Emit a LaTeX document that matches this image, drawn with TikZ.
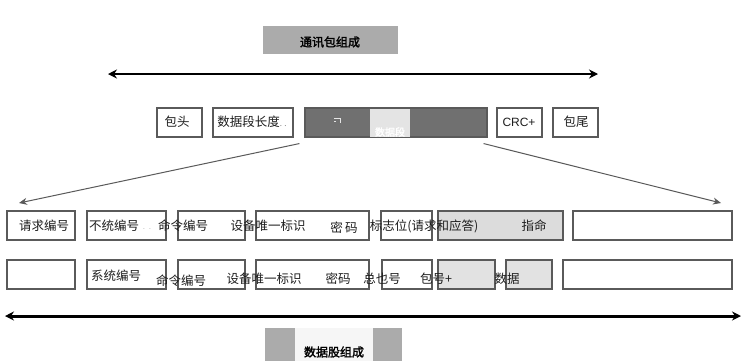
\documentclass[tikz,border=0pt]{standalone}
\usepackage{fontspec}
\newfontfamily\cjk{Noto Sans CJK SC}
\newfontfamily\cjkb[FakeBold=2]{Noto Sans CJK SC}
\setsansfont{Liberation Sans}
\usetikzlibrary{arrows.meta}
\definecolor{boxc}{HTML}{5A5A5A}
\definecolor{darkf}{HTML}{707070}
\definecolor{lightp}{HTML}{E4E4E4}
\definecolor{labelg}{HTML}{ABABAB}
\definecolor{grayf}{HTML}{DCDCDC}
\definecolor{grayf2}{HTML}{E2E2E2}
\definecolor{txt}{HTML}{1E1E1E}
\begin{document}
\begin{tikzpicture}[x=1pt,y=-1pt,
  box/.style={draw=boxc, line width=1.1pt, inner sep=0pt, minimum height=29pt},
  lbl/.style={inner sep=0pt, font=\cjk\fontsize{12.5}{13}\selectfont, text=txt},
  title/.style={inner sep=0pt, font=\cjkb\fontsize{12}{13}\selectfont, text=black},
  bigarrow/.style={line width=2.6pt, {Stealth[length=9pt,width=9pt]}-{Stealth[length=9pt,width=9pt]}},
  diag/.style={line width=1pt, draw=boxc, -{Stealth[length=8pt,width=7pt]}}
]
\useasboundingbox (0,0) rectangle (743,360);
\fill[white] (0,0) rectangle (743,360);

% top label
\node[fill=labelg, minimum width=135pt, minimum height=28pt, inner sep=0pt] (toplbl) at (330.5,39.5) {};
\node[title] (toptxt) at (330,42) {通讯包组成};

% top arrow
\coordinate (tl) at (108,74);
\coordinate (tr) at (598,74);
\draw[bigarrow] (tl) -- (tr);

% row 1
\node[box, minimum width=45pt] (head) at (179.5,122.5) {};
\node[lbl] (headt) at (177,122) {包头};
\node[box, minimum width=80pt] (len) at (253,122.5) {};
\node[lbl] (lent) at (252,122) {数据段长度{\fontsize{8}{8}\selectfont\color{gray}. .}};
\node[box, fill=darkf, minimum width=182pt] (data) at (396,122.5) {};
\fill[lightp] (370,108.5) rectangle (410,136.5);
\node[inner sep=0pt, text=white, font=\cjkb\fontsize{10}{10}\selectfont] (datat) at (390,132) {数据段};
\draw[white!80!gray, line width=0.6pt] (334,118) -- (340,118) -- (340,123) (334,121) -- (336,121);
\node[box, minimum width=45pt] (crc) at (519.5,122.5) {};
\node[inner sep=0pt, font=\sffamily\fontsize{12}{13}\selectfont, text=txt] (crct) at (519,122) {CRC+};
\node[box, minimum width=45pt] (tail) at (575.5,122.5) {};
\node[lbl] (tailt) at (576,122) {包尾};

% diagonal arrows
\coordinate (dl) at (19,203);
\coordinate (dr) at (721,203);
\draw[diag] ([xshift=-5pt,yshift=-6pt]data.south west) -- (dl);
\draw[diag] ([xshift=-4pt,yshift=-6pt]data.south east) -- (dr);

% row 2
\node[box, minimum width=68pt] (a2) at (41,225.5) {};
\node[box, minimum width=79pt] (b2) at (126.5,225.5) {};
\node[box, minimum width=67pt] (c2) at (211.5,225.5) {};
\node[box, minimum width=113pt] (d2) at (312.5,225.5) {};
\node[box, minimum width=51pt] (e2) at (406.5,225.5) {};
\node[box, fill=grayf, minimum width=125pt] (f2) at (500.5,225.5) {};
\node[box, minimum width=159pt] (g2) at (652.5,225.5) {};

\node[lbl] (a2t) at (44,226) {请求编号};
\node[lbl] (b2t) at (114,226) {不统编号};
\node[inner sep=0pt, text=gray, font=\fontsize{8}{8}\selectfont] (b2d) at (147,229) {. .};
\node[lbl] (c2t) at (183,226) {命令编号};
\node[lbl] (d2t) at (268,226) {设备唯一标识};
\node[lbl] (d2u) at (344,228) {密\,码};
\node[lbl] (e2t) at (424,226) {标志位(请求和应答)};
\node[lbl] (f2t) at (534,226) {指命};

% row 3
\node[box, minimum width=68pt] (a3) at (41,274.5) {};
\node[box, minimum width=79pt] (b3) at (126.5,274.5) {};
\node[box, minimum width=67pt] (c3) at (211.5,274.5) {};
\node[box, minimum width=113pt] (d3) at (312.5,274.5) {};
\node[box, minimum width=50pt] (e3) at (407,274.5) {};
\node[box, fill=grayf2, minimum width=57pt] (f3) at (466.5,274.5) {};
\node[box, fill=grayf2, minimum width=46pt] (g3) at (529,274.5) {};
\node[box, minimum width=169pt] (h3) at (647.5,274.5) {};

\node[lbl] (b3t) at (116,276) {系统编号};
\node[lbl] (c3t) at (181,281) {命令编号};
\node[lbl] (d3t) at (264,279) {设备唯一标识};
\node[lbl] (d3u) at (338,279) {密码};
\node[lbl] (e3t) at (382,279) {总也号};
\node[lbl] (f3t) at (436,279) {包号+};
\node[lbl] (g3t) at (507,279) {数据};

% bottom arrow
\coordinate (bl) at (5,316);
\coordinate (br) at (741,316);
\draw[bigarrow, line width=3pt] (bl) -- (br);

% bottom label
\fill[labelg] (265,328) rectangle (402,362);
\fill[white!93!gray] (295,328) rectangle (373,362);
\node[inner sep=0pt, minimum width=137pt, minimum height=34pt] (botlbl) at (333.5,345) {};
\node[title] (bottxt) at (334,352) {数据股组成};
\end{tikzpicture}
\end{document}
